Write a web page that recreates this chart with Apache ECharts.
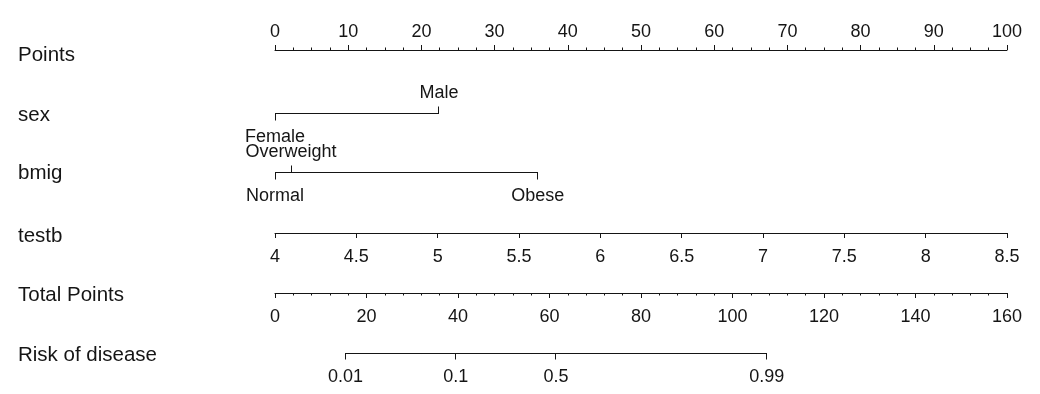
<!DOCTYPE html>
<html><head><meta charset="utf-8">
<script src="https://cdn.jsdelivr.net/npm/echarts@6/dist/echarts.min.js"></script>
<style>html,body{margin:0;padding:0;background:#fff}#c{width:1040px;height:394px}</style>
</head><body><div id="c"></div>
<script>
// ---- data ----
const rowNames = ['Points', 'sex', 'bmig', 'testb', 'Total Points', 'Risk of disease'];
const pointsMin = 0, pointsMax = 100, pointsStep = 10;
const sexLevels = ['Female', 'Male'];
const sexPoints = [0, 22.4];
const bmigLevels = ['Normal', 'Overweight', 'Obese'];
const bmigPoints = [0, 2.2, 35.9];
const testbMin = 4, testbMax = 8.5, testbStep = 0.5;
const totalMin = 0, totalMax = 160, totalStep = 20;
const riskLabels = ['0.01', '0.1', '0.5', '0.99'];
const riskTotalPoints = [15.4, 39.5, 61.4, 107.5];

// ---- layout / style ----
const lineY = [50, 113, 172, 233, 293, 353];
const nameY = [55, 115, 173, 236, 295, 355];
const L = 275, R = 33;
const FAM = '"Liberation Sans", Arial, sans-serif';
const INK = '#151515';
const TICK_FS = 18, NAME_FS = 20.5;
const ABOVE_OFF = -20, BELOW_OFF = 24;

const chart = echarts.init(document.getElementById('c'), null, {renderer: 'canvas'});

const grids = lineY.map((y, i) => ({left: L, right: R, top: i === 0 ? y : y - 1, height: 1}));
const lineStyle = {color: INK, width: 1};
const labelStyle = {fontSize: TICK_FS, fontFamily: FAM, color: INK, showMinLabel: true, showMaxLabel: true, hideOverlap: false};

function numAxis(gi, min, max, step, pos, minorSplit, margin) {
  return {
    gridIndex: gi, type: 'value', position: pos, min, max, interval: step,
    axisLine: {show: true, lineStyle, onZero: false},
    axisTick: {show: true, inside: false, length: 5, lineStyle},
    minorTick: {show: !!minorSplit, splitNumber: minorSplit || 5, length: 2.5, lineStyle},
    axisLabel: Object.assign({margin}, labelStyle),
    splitLine: {show: false}, minorSplitLine: {show: false}
  };
}
function hiddenAxis(gi, min, max) {
  return {gridIndex: gi, type: 'value', min, max, show: false, splitLine: {show: false}};
}

const xAxes = [
  numAxis(0, pointsMin, pointsMax, pointsStep, 'top', 4, 9),
  hiddenAxis(1, pointsMin, pointsMax),
  hiddenAxis(2, pointsMin, pointsMax),
  numAxis(3, testbMin, testbMax, testbStep, 'bottom', 0, 15),
  numAxis(4, totalMin, totalMax, totalStep, 'bottom', 5, 15),
  hiddenAxis(5, totalMin, totalMax)
];
const yAxes = lineY.map((y, i) => ({gridIndex: i, type: 'value', min: 0, max: 1, show: false, splitLine: {show: false}}));

const crisp = v => Math.round(v) + 0.5;

function levelSeries(gi, names, values, tickLen, sideOf) {
  const lo = Math.min(...values), hi = Math.max(...values);
  return {
    type: 'custom', xAxisIndex: gi, yAxisIndex: gi, silent: true, clip: false,
    data: values.map((v, i) => [v, i]),
    renderItem(params, api) {
      const i = params.dataIndex;
      const p = api.coord([api.value(0), 0]);
      const dir = sideOf(i);
      const y0 = crisp(p[1] - 0.5);
      const x = crisp(p[0] - 0.5);
      const children = [];
      if (i === 0) {
        const a = api.coord([lo, 0]), b = api.coord([hi, 0]);
        children.push({type: 'line', shape: {x1: crisp(a[0] - 0.5) - 0.5, y1: y0, x2: crisp(b[0] - 0.5) + 0.5, y2: y0},
          style: {stroke: INK, lineWidth: 1}});
      }
      children.push({type: 'line', shape: {x1: x, y1: y0, x2: x, y2: y0 + dir * tickLen},
        style: {stroke: INK, lineWidth: 1}});
      children.push({type: 'text', x: p[0], y: p[1] + (dir > 0 ? BELOW_OFF : ABOVE_OFF),
        style: {text: names[i], fill: INK, fontSize: TICK_FS, fontFamily: FAM,
          textAlign: 'center', textVerticalAlign: 'middle'}});
      return {type: 'group', children};
    }
  };
}

const alternate = i => (i % 2 === 0 ? 1 : -1);
const below = () => 1;

chart.setOption({
  animation: false,
  backgroundColor: '#ffffff',
  grid: grids,
  xAxis: xAxes,
  yAxis: yAxes,
  series: [
    levelSeries(1, sexLevels, sexPoints, 7, alternate),
    levelSeries(2, bmigLevels, bmigPoints, 7, alternate),
    levelSeries(5, riskLabels, riskTotalPoints, 6, below)
  ],
  graphic: rowNames.map((n, i) => ({
    type: 'text', x: 18, y: nameY[i], silent: true,
    style: {text: n, fill: INK, fontSize: NAME_FS, fontFamily: FAM, textVerticalAlign: 'middle'}
  }))
});
</script>
</body></html>
